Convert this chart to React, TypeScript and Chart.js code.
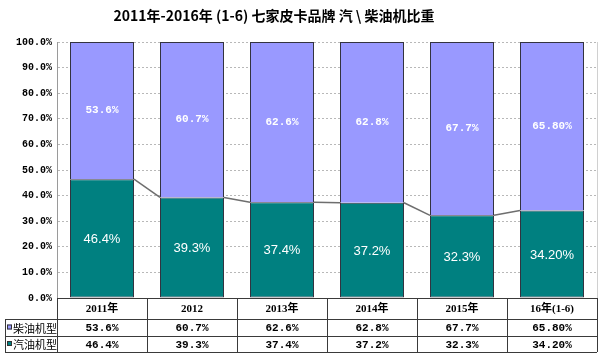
import React, { useEffect, useRef } from "react";
import { Chart, registerables } from "chart.js";

Chart.register(...registerables);

const categories = ["2011年", "2012", "2013年", "2014年", "2015年", "16年(1-6)"];
const dieselValues = [53.6, 60.7, 62.6, 62.8, 67.7, 65.8];
const gasolineValues = [46.4, 39.3, 37.4, 37.2, 32.3, 34.2];
const dieselLabels = ["53.6%", "60.7%", "62.6%", "62.8%", "67.7%", "65.80%"];
const gasolineLabels = ["46.4%", "39.3%", "37.4%", "37.2%", "32.3%", "34.20%"];
const seriesNames = ["柴油机型", "汽油机型"];
const title = "2011年-2016年 (1-6) 七家皮卡品牌 汽 \\ 柴油机比重";

const PURPLE = "#9999FF";
const TEAL = "#008080";
const MONO = '"Liberation Mono", "Noto Sans CJK SC", monospace';
const CJK = '"Noto Sans CJK SC", sans-serif';

const overlayPlugin = {
  id: "overlay",
  afterDatasetsDraw(chart: any) {
    const ctx = chart.ctx;
    const x = chart.scales.x;
    const area = chart.chartArea;
    const metaG = chart.getDatasetMeta(0);
    const metaD = chart.getDatasetMeta(1);

    // series lines between green tops
    ctx.save();
    ctx.strokeStyle = "#6e6e6e";
    ctx.lineWidth = 1.5;
    for (let i = 0; i < metaG.data.length - 1; i++) {
      const a = metaG.data[i];
      const b = metaG.data[i + 1];
      ctx.beginPath();
      ctx.moveTo(a.x + a.width / 2, a.y);
      ctx.lineTo(b.x - b.width / 2, b.y);
      ctx.stroke();
    }
    ctx.restore();

    // right border of plot
    ctx.save();
    ctx.strokeStyle = "#d0d0d0";
    ctx.lineWidth = 1;
    ctx.beginPath();
    ctx.moveTo(area.right + 0.5, area.top);
    ctx.lineTo(area.right + 0.5, area.bottom);
    ctx.stroke();
    ctx.restore();

    // data labels
    ctx.save();
    ctx.fillStyle = "#ffffff";
    ctx.textAlign = "center";
    ctx.textBaseline = "middle";
    metaD.data.forEach((bar: any, i: number) => {
      ctx.font = "bold 11px " + MONO;
      ctx.fillText(dieselLabels[i], bar.x, (bar.y + bar.base) / 2);
    });
    metaG.data.forEach((bar: any, i: number) => {
      ctx.font = '13px "Liberation Sans", Arial, sans-serif';
      ctx.fillText(gasolineLabels[i], bar.x, (bar.y + bar.base) / 2 + 1);
    });
    ctx.restore();

    // data table
    const top = area.bottom;
    const rows = [top, top + 21, top + 38, top + 54];
    const left = 5;
    const n = categories.length;
    const edges: number[] = [];
    for (let i = 0; i <= n; i++) {
      const px = i === 0 ? area.left : i === n ? area.right : (x.getPixelForValue(i - 1) + x.getPixelForValue(i)) / 2;
      edges.push(px);
    }
    ctx.save();
    ctx.strokeStyle = "#3a3a3a";
    ctx.lineWidth = 1;
    ctx.beginPath();
    ctx.moveTo(area.left, rows[0] + 0.5);
    ctx.lineTo(area.right, rows[0] + 0.5);
    for (let r = 1; r < rows.length; r++) {
      ctx.moveTo(left, Math.round(rows[r]) + 0.5);
      ctx.lineTo(area.right, Math.round(rows[r]) + 0.5);
    }
    for (let i = 0; i <= n; i++) {
      const ex = Math.round(edges[i]) + 0.5;
      ctx.moveTo(ex, rows[0]);
      ctx.lineTo(ex, rows[3]);
    }
    ctx.moveTo(left + 0.5, rows[1]);
    ctx.lineTo(left + 0.5, rows[3]);
    ctx.stroke();

    ctx.fillStyle = "#000";
    ctx.textAlign = "center";
    ctx.textBaseline = "middle";
    for (let i = 0; i < n; i++) {
      const cx = x.getPixelForValue(i);
      ctx.font = 'bold 11px "Liberation Serif", ' + CJK;
      ctx.fillText(categories[i], cx, (rows[0] + rows[1]) / 2 + 1);
      ctx.font = "bold 11px " + MONO;
      ctx.fillText(dieselLabels[i], cx, (rows[1] + rows[2]) / 2 + 1);
      ctx.fillText(gasolineLabels[i], cx, (rows[2] + rows[3]) / 2 + 1);
    }
    const swatch = [PURPLE, TEAL];
    for (let r = 0; r < 2; r++) {
      const cy = (rows[r + 1] + rows[r + 2]) / 2;
      ctx.fillStyle = swatch[r];
      ctx.fillRect(7, cy - 3, 5, 5);
      ctx.strokeStyle = "#333";
      ctx.strokeRect(7.5, cy - 2.5, 4, 4);
      ctx.fillStyle = "#000";
      ctx.textAlign = "left";
      ctx.font = "11px " + CJK;
      ctx.fillText(seriesNames[r], 13, cy + 1);
    }
    ctx.restore();

    // title
    ctx.save();
    ctx.fillStyle = "#000";
    ctx.font = "bold 14px " + CJK;
    ctx.textAlign = "center";
    ctx.textBaseline = "middle";
    ctx.fillText(title, 274, 16);
    ctx.restore();
  },
};

export default function App() {
  const ref = useRef<HTMLCanvasElement | null>(null);
  useEffect(() => {
    if (!ref.current) return;
    const chart = new Chart(ref.current, {
      type: "bar",
      data: {
        labels: categories,
        datasets: [
          {
            label: seriesNames[1],
            data: gasolineValues,
            backgroundColor: TEAL,
            borderColor: "#333340",
            borderWidth: 1,
            borderSkipped: false,
          },
          {
            label: seriesNames[0],
            data: dieselValues,
            backgroundColor: PURPLE,
            borderColor: "#333340",
            borderWidth: 1,
            borderSkipped: "start",
          },
        ],
      },
      options: {
        responsive: false,
        animation: false,
        devicePixelRatio: 1,
        layout: { padding: { top: 42, right: 3, bottom: 56, left: 0 } },
        datasets: { bar: { categoryPercentage: 1, barPercentage: 64 / 90 } },
        plugins: { legend: { display: false }, tooltip: { enabled: false }, title: { display: false } },
        scales: {
          x: { stacked: true, display: false },
          y: {
            stacked: true,
            min: 0,
            max: 100,
            afterFit: (s: any) => {
              s.width = 57;
            },
            ticks: {
              stepSize: 10,
              color: "#000",
              padding: 5,
              font: { family: MONO, size: 10, weight: "bold" },
              callback: (v: any) => Number(v).toFixed(1) + "%",
            },
            grid: { color: "#b8b8b8", drawTicks: false, lineWidth: 1 },
            border: { display: true, color: "#9a9a9a", dash: [2, 2] },
          },
        },
      },
      plugins: [overlayPlugin],
    } as any);
    return () => chart.destroy();
  }, []);
  return (
    <div style={{ position: "fixed", left: 0, top: 0, width: 600, height: 354, background: "#fff" }}>
      <canvas ref={ref} width={600} height={354} style={{ display: "block", width: 600, height: 354 }} />
    </div>
  );
}
